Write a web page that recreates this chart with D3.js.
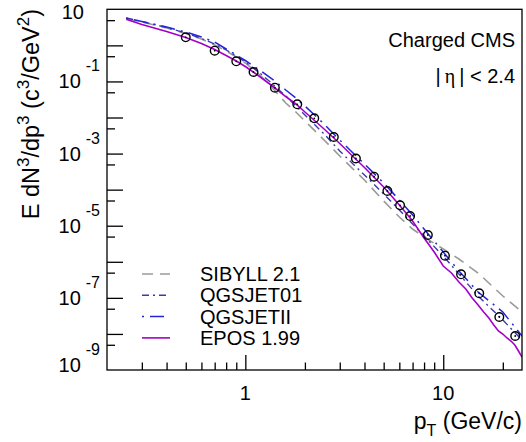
<!DOCTYPE html>
<html>
<head>
<meta charset="utf-8">
<script src="https://cdn.jsdelivr.net/npm/d3@7"></script>
<style>
  body { margin: 0; background: #fff; }
  svg text { font-family: "Liberation Sans", Arial, Helvetica, sans-serif; fill: #000; }
</style>
</head>
<body>
<svg id="chart" width="526" height="442"></svg>
<script>
// CMS charged hadron spectrum, |eta| < 2.4, against MC generators

// data points (open circles)
const dataPt = [0.50, 0.70, 0.90, 1.10, 1.41, 1.83, 2.23, 2.80, 3.62, 4.47, 5.22, 6.05, 6.80, 8.36, 10.2, 12.3, 15.2, 19.2, 23.1];
const dataVal = [1.67, 0.711, 0.362, 0.1827, 0.0671, 0.02324, 0.00951, 0.00288, 7.30e-4, 2.29e-4, 9.17e-5, 3.68e-5, 1.86e-5, 5.53e-6, 1.475e-6, 4.50e-7, 1.338e-7, 2.95e-8, 8.76e-9];

// common pT grid for the SIBYLL / QGSJET curves
const modelPt = [0.25, 0.3, 0.4, 0.5, 0.6, 0.7, 0.8, 0.9, 1.0, 1.2, 1.4, 1.6, 1.8, 2.0, 2.5, 3.0, 3.5, 4.0, 5.0, 6.0, 7.0, 8.0, 10, 12, 15, 20, 25];
const sibyll = [5.56, 4.44, 3.03, 2.13, 1.50, 1.024, 0.698, 0.476, 0.3245, 0.1415, 0.0579, 0.02525, 0.01421, 0.00800, 0.002379, 8.57e-4, 3.74e-4, 1.851e-4, 4.84e-5, 1.744e-5, 8.11e-6, 4.87e-6, 2.26e-6, 1.194e-6, 4.89e-7, 1.125e-7, 4.05e-8];
const qgsjet01 = [5.74, 4.59, 3.13, 2.20, 1.55, 1.091, 0.744, 0.507, 0.346, 0.1608, 0.0772, 0.0395, 0.02085, 0.01174, 0.00349, 0.001179, 5.14e-4, 2.55e-4, 7.58e-5, 2.73e-5, 1.116e-5, 5.19e-6, 1.447e-6, 4.59e-7, 1.125e-7, 2.43e-8, 6.79e-9];
const qgsjetII = [5.74, 4.59, 3.23, 2.35, 1.706, 1.240, 0.793, 0.541, 0.3805, 0.1948, 0.1062, 0.0579, 0.0348, 0.02085, 0.00661, 0.002379, 0.001038, 5.14e-4, 1.529e-4, 5.16e-5, 1.982e-5, 8.11e-6, 1.867e-6, 5.55e-7, 1.453e-7, 4.05e-8, 8.76e-9];

// EPOS has a finer (and noisier) binning at high pT
const eposPt = [0.25, 0.3, 0.4, 0.5, 0.6, 0.7, 0.8, 0.9, 1.0, 1.2, 1.4, 1.6, 1.8, 2.0, 2.5, 3.0, 3.5, 4.0, 5.0, 6.0, 7.0, 8.0, 9.0, 10, 11, 12, 13, 14, 15, 16, 17, 18, 19, 20, 21, 22, 23, 24, 25];
const epos = [5.28, 3.79, 2.42, 1.65, 1.13, 0.768, 0.524, 0.369, 0.260, 0.1286, 0.0679, 0.0382, 0.0237, 0.01421, 0.00480, 0.00190, 8.30e-4, 4.11e-4, 1.184e-4, 3.75e-5, 1.351e-5, 4.56e-6, 1.867e-6, 7.64e-7, 4.89e-7, 2.75e-7, 1.76e-7, 9.91e-8, 6.34e-8, 4.05e-8, 2.76e-8, 1.77e-8, 1.205e-8, 9.95e-9, 7.71e-9, 6.37e-9, 4.93e-9, 3.36e-9, 2.29e-9];

// axis ticks
const yLabelExp = [1, -1, -3, -5, -7, -9];
const yMajorExp = [0, -1, -2, -3, -4, -5, -6, -7, -8];
const yMinorExp = [0, -1, -2, -3, -4, -5, -6, -7, -8, -9];
const xMajor = [1, 10];
const xMinor = [0.3, 0.4, 0.5, 0.6, 0.7, 0.8, 0.9, 2, 3, 4, 5, 6, 7, 8, 9, 20];
const xLabels = ["1", "10"];

const legendLabels = ["SIBYLL 2.1", "QGSJET01", "QGSJETII", "EPOS 1.99"];

const svg = d3.select("#chart");

// frame of the pad
const padL = 107, padR = 522, padT = 9.3, padB = 370;

const x = d3.scaleLog().domain([0.2, 25]).range([padL, padR]);
const y = d3.scaleLog().domain([1e-9, 10]).range([padB, padT]);

svg.append("defs").append("clipPath").attr("id", "frame")
  .append("rect")
  .attr("x", padL).attr("y", padT)
  .attr("width", padR - padL).attr("height", padB - padT);

// y ticks (pointing inward)
svg.append("g")
  .attr("transform", `translate(${padL},0)`)
  .call(d3.axisRight(y).tickValues(yMajorExp.map(e => Math.pow(10, e))).tickSize(16).tickFormat(""))
  .call(g => g.select(".domain").remove());
svg.append("g")
  .attr("transform", `translate(${padL},0)`)
  .call(d3.axisRight(y).tickValues(yMinorExp.map(e => 5 * Math.pow(10, e))).tickSize(8).tickFormat(""))
  .call(g => g.select(".domain").remove());

// x ticks
svg.append("g")
  .attr("transform", `translate(0,${padB})`)
  .call(d3.axisTop(x).tickValues(xMajor).tickSize(15).tickFormat(""))
  .call(g => g.select(".domain").remove());
svg.append("g")
  .attr("transform", `translate(0,${padB})`)
  .call(d3.axisTop(x).tickValues(xMinor).tickSize(7.5).tickFormat(""))
  .call(g => g.select(".domain").remove());

svg.selectAll(".tick line").attr("stroke", "#000").attr("stroke-width", 1.3);

// y labels as 10^n, kept inside the pad height like ROOT does
yLabelExp.forEach(e => {
  const ty = Math.min(Math.max(y(Math.pow(10, e)), 12), 365);
  const t = svg.append("text")
    .attr("y", ty + 7)
    .style("font-size", "20px");
  if (e === 1) {
    t.attr("x", 84).attr("text-anchor", "end").text("10");
  } else {
    t.attr("x", 100).attr("text-anchor", "end");
    t.append("tspan").text("10");
    t.append("tspan").attr("dx", 5).attr("dy", -17).style("font-size", "16px").text(e);
  }
});

// x labels
svg.selectAll(".xlab")
  .data(xMajor)
  .join("text")
  .attr("class", "xlab")
  .attr("x", d => x(d))
  .attr("y", 400)
  .attr("text-anchor", "middle")
  .style("font-size", "20px")
  .text((d, i) => xLabels[i]);

// axis titles
const xt = svg.append("text")
  .attr("x", padR).attr("y", 429)
  .attr("text-anchor", "end")
  .style("font-size", "23px");
xt.append("tspan").text("p");
xt.append("tspan").attr("dy", 7).style("font-size", "16px").text("T");
xt.append("tspan").attr("dy", -7).text(" (GeV/c)");

const yt = svg.append("text")
  .attr("transform", "translate(39,9) rotate(-90)")
  .attr("text-anchor", "end")
  .style("font-size", "23.5px");
yt.append("tspan").text("E dN");
yt.append("tspan").attr("dy", -10).style("font-size", "17px").text("3");
yt.append("tspan").attr("dy", 10).text("/dp");
yt.append("tspan").attr("dy", -10).style("font-size", "17px").text("3");
yt.append("tspan").attr("dy", 10).text(" (c");
yt.append("tspan").attr("dy", -10).style("font-size", "17px").text("3");
yt.append("tspan").attr("dy", 10).text("/GeV");
yt.append("tspan").attr("dy", -10).style("font-size", "17px").text("2");
yt.append("tspan").attr("dy", 10).text(")");

// model curves
const line = d3.line()
  .x(d => x(d[0]))
  .y(d => y(d[1]));

const curves = [
  { pt: modelPt, val: sibyll, color: "#9a9a9a", dash: "11,7", w: 1.6 },
  { pt: modelPt, val: qgsjet01, color: "#3a3aa8", dash: "7,4,2,4", w: 1.4 },
  { pt: modelPt, val: qgsjetII, color: "#2424d8", dash: "2,6,14,6", w: 1.5 },
  { pt: eposPt, val: epos, color: "#a400c8", dash: null, w: 1.6 }
];

const plot = svg.append("g").attr("clip-path", "url(#frame)");
curves.forEach(c => {
  plot.append("path")
    .datum(c.pt.map((p, i) => [p, c.val[i]]))
    .attr("fill", "none")
    .attr("stroke", c.color)
    .attr("stroke-width", c.w)
    .attr("stroke-dasharray", c.dash)
    .attr("d", line);
});

// data points
const pts = plot.selectAll(".pt")
  .data(dataPt.map((p, i) => [p, dataVal[i]]))
  .join("g")
  .attr("class", "pt")
  .attr("transform", d => `translate(${x(d[0])},${y(d[1])})`);
pts.append("circle").attr("r", 4.3).attr("fill", "none").attr("stroke", "#000").attr("stroke-width", 1.4);
pts.append("circle").attr("r", 0.9).attr("fill", "#000");

// frame
svg.append("rect")
  .attr("x", padL).attr("y", padT)
  .attr("width", padR - padL).attr("height", padB - padT)
  .attr("fill", "none").attr("stroke", "#000").attr("stroke-width", 1.3);

// labels in the pad
svg.append("text").attr("x", 515).attr("y", 47).attr("text-anchor", "end")
  .style("font-size", "20px").text("Charged CMS");
const eta = svg.append("text").attr("x", 515).attr("y", 83).attr("text-anchor", "end")
  .style("font-size", "20px");
eta.append("tspan").text("|\u2009");
eta.append("tspan").style("font-family", "'Liberation Serif', 'DejaVu Serif', serif").text("η");
eta.append("tspan").text("\u2009| < 2.4");

// legend
const leg = svg.append("g");
curves.forEach((c, i) => {
  const ly = 274 + i * 21.3;
  leg.append("line")
    .attr("x1", 142).attr("x2", 170)
    .attr("y1", ly).attr("y2", ly)
    .attr("stroke", c.color)
    .attr("stroke-width", c.w)
    .attr("stroke-dasharray", c.dash);
  leg.append("text")
    .attr("x", 200).attr("y", ly + 7)
    .style("font-size", "20px")
    .text(legendLabels[i]);
});
</script>
</body>
</html>
